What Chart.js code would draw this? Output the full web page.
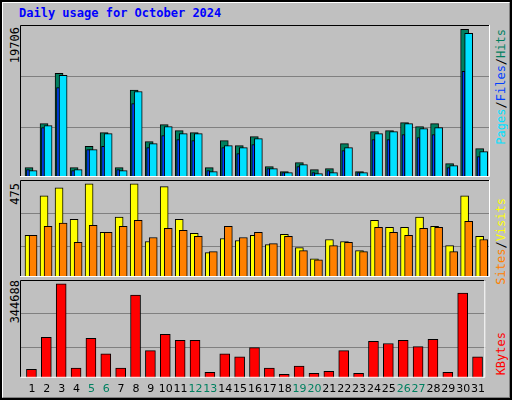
<!DOCTYPE html>
<html>
<head>
<meta charset="utf-8">
<script src="https://cdn.jsdelivr.net/npm/chart.js@4/dist/chart.umd.min.js"></script>
<style>
body{margin:0;background:#fff;}
#frame{position:absolute;left:0;top:0;width:508px;height:396px;background:#c0c0c0;border:2px solid #000;}
#inner{position:absolute;left:0;top:0;width:506px;height:394px;border-top:1px solid #fff;border-left:1px solid #fff;border-right:1px solid #808080;border-bottom:1px solid #808080;}
canvas{position:absolute;}
.t{position:absolute;font-family:"DejaVu Sans Mono",monospace;font-size:12px;white-space:nowrap;}
.v{writing-mode:vertical-rl;transform:rotate(180deg);}
</style>
</head>
<body>
<div id="frame"><div id="inner"></div></div>
<div class="t" style="left:19px;top:6px;color:#0000ff;font-weight:bold;">Daily usage for October 2024</div>
<div class="t v" style="left:8px;top:27px;color:#000;">19706</div>
<div class="t v" style="left:8px;top:183px;color:#000;">475</div>
<div class="t v" style="left:8px;top:280px;color:#000;">344688</div>
<div class="t v" style="left:494px;top:29px;"><span style="color:#00e0ff">Pages</span><span style="color:#000">/</span><span style="color:#0040ff">Files</span><span style="color:#000">/</span><span style="color:#008060">Hits</span></div>
<div class="t v" style="left:494px;top:198px;"><span style="color:#ff8000">Sites</span><span style="color:#000">/</span><span style="color:#ffff00">Visits</span></div>
<div class="t v" style="left:494px;top:332px;color:#ff0000;">KBytes</div>
<canvas id="c1" width="470" height="152" style="left:20px;top:25px"></canvas>
<canvas id="c2" width="470" height="97" style="left:20px;top:180px"></canvas>
<canvas id="c3" width="470" height="121" style="left:20px;top:280px"></canvas>
<script>
var days = [];
for (var d = 1; d <= 31; d++) days.push(d);
var weekends = [5, 6, 12, 13, 19, 20, 26, 27];

var hits = [1248,7133,13821,1248,4102,5930,1248,11592,4726,7000,6197,5930,1248,4860,4191,5395,1382,713,1917,981,1115,4458,713,6063,6197,7267,6732,7133,1783,19706,3790];
var files = [847,6866,13553,981,3656,5796,847,11413,4458,6732,5796,5796,713,4191,3923,5127,1115,580,1650,446,580,3923,580,5796,6063,7133,6465,6598,1516,19171,3388];
var pages = [981,6598,11949,847,3656,4102,981,9808,3923,5529,4994,4860,847,3923,3121,4325,1115,580,1382,580,847,3522,580,4994,4994,5662,5261,5662,1248,14089,2720];
var visits = [212,413,454,294,475,227,305,475,181,460,294,222,124,196,186,212,165,217,150,93,191,181,134,289,253,253,305,258,160,413,207];
var sites = [212,258,274,176,263,227,258,289,201,248,238,207,129,258,201,227,170,207,134,88,160,176,129,253,227,212,248,253,129,284,191];
var kbytes = [31450,148441,344688,35223,144667,88058,35223,303173,99380,159763,137120,137120,20128,88058,76737,110702,35223,12580,42771,16354,23902,99380,16354,133346,125798,137120,114476,140894,20128,310720,76737];

function pts(arr, shift) {
  return arr.map(function(v, i) { return {x: days[i] + shift, y: v}; });
}

var framePlugin = {
  id: 'frame',
  afterDraw: function(chart) {
    var a = chart.chartArea, ctx = chart.ctx;
    ctx.save();
    ctx.lineWidth = 1;
    ctx.strokeStyle = '#000';
    ctx.beginPath();
    ctx.moveTo(a.left + 0.5, a.bottom);
    ctx.lineTo(a.left + 0.5, a.top + 0.5);
    ctx.lineTo(a.right, a.top + 0.5);
    ctx.stroke();
    ctx.strokeStyle = '#fff';
    ctx.beginPath();
    ctx.moveTo(a.left, a.bottom - 0.5);
    ctx.lineTo(a.right - 0.5, a.bottom - 0.5);
    ctx.lineTo(a.right - 0.5, a.top);
    ctx.stroke();
    ctx.restore();
  }
};

function makeChart(id, datasets, ymax, gridVals, showX) {
  return new Chart(document.getElementById(id), {
    type: 'bar',
    data: {datasets: datasets},
    plugins: [framePlugin],
    options: {
      responsive: false,
      animation: false,
      layout: {padding: 0},
      plugins: {legend: {display: false}, tooltip: {enabled: false}},
      scales: {
        x: {
          type: 'linear', min: 0.2, max: 31.49, offset: false,
          grid: {display: false, drawTicks: false},
          border: {display: false},
          afterBuildTicks: function(s) { s.ticks = days.map(function(v) { return {value: v}; }); },
          ticks: {
            display: showX, autoSkip: false, maxRotation: 0, padding: 5,
            font: {family: 'DejaVu Sans', size: 11},
            color: function(c) { return weekends.indexOf(c.tick.value) >= 0 ? '#008060' : '#000'; }
          }
        },
        y: {
          min: 0, max: ymax,
          border: {display: false},
          grid: {color: '#808080', lineWidth: 1, drawTicks: false},
          afterBuildTicks: function(s) { s.ticks = gridVals.map(function(v) { return {value: v}; }); },
          ticks: {display: false}
        }
      }
    }
  });
}

function ds(arr, shift, color, w, order) {
  return {data: pts(arr, shift), backgroundColor: color, borderColor: '#000', borderWidth: 1,
    barThickness: w, grouped: false, order: order};
}

makeChart('c1', [
  ds(hits, -0.2, '#008060', 8, 3),
  ds(pages, -0.27, '#0040ff', 3, 2),
  ds(files, 0.07, '#00e0ff', 8, 1)
], 20286, [6598, 13420], false);

makeChart('c2', [
  ds(visits, -0.2, '#ffff00', 8, 2),
  ds(sites, 0.07, '#ff8000', 8, 1)
], 494, [155, 325], false);

makeChart('c3', [
  ds(kbytes, -0.03, '#ff0000', 10, 1)
], 358526, [110702, 235236], true);
</script>
</body>
</html>
